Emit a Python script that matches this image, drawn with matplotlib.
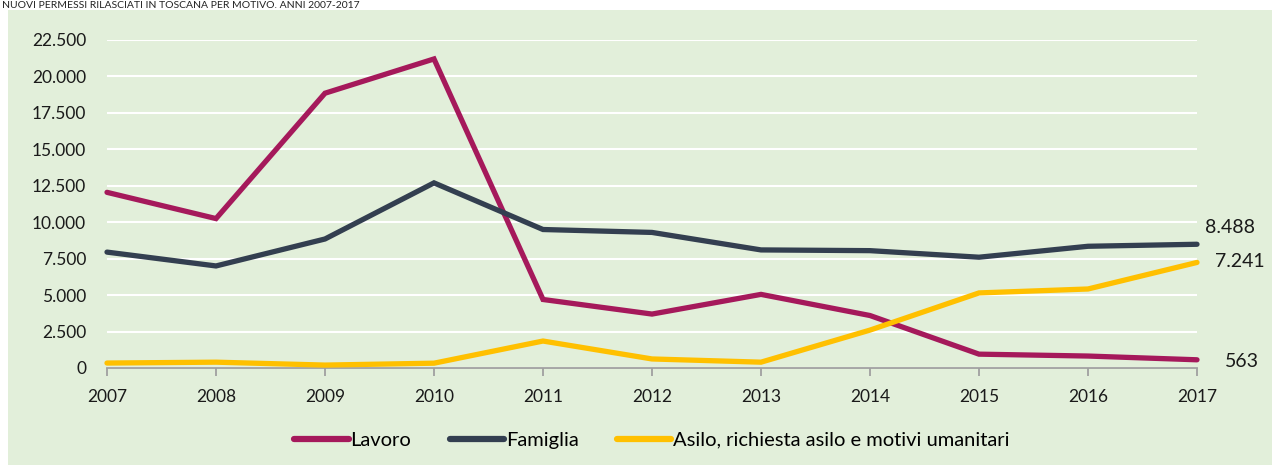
import matplotlib
matplotlib.use("Agg")
import matplotlib.pyplot as plt
from matplotlib.patches import Rectangle
from matplotlib.ticker import FuncFormatter

years = [2007, 2008, 2009, 2010, 2011, 2012, 2013, 2014, 2015, 2016, 2017]
lavoro = [12050, 10250, 18850, 21200, 4700, 3700, 5050, 3600, 950, 820, 563]
famiglia = [7950, 7000, 8850, 12700, 9500, 9300, 8100, 8050, 7600, 8350, 8488]
asilo = [340, 400, 200, 330, 1850, 620, 400, 2600, 5150, 5420, 7241]
labels = ["Lavoro", "Famiglia", "Asilo, richiesta asilo e motivi umanitari"]
colors = ["#A5195B", "#333F50", "#FFC000"]
title = "NUOVI PERMESSI RILASCIATI IN TOSCANA PER MOTIVO. ANNI 2007-2017"

plt.rcParams['font.family'] = ['Lato', 'DejaVu Sans']

W, H = 1279, 468
fig = plt.figure(figsize=(W/100, H/100), dpi=100)
fig.patch.set_facecolor("white")
bg = Rectangle((8/W, 1-465/H), (1272-8)/W, (465-10)/H, transform=fig.transFigure,
               facecolor="#E2EFDA", edgecolor="none", zorder=-5)
fig.patches.append(bg)
fig.text(2/W, 1-1/H, title, fontsize=7.5, color="#222222", va="top", ha="left")

ax = fig.add_axes([107/W, 1-368/H, (1197-107)/W, (368-40)/H])
ax.set_zorder(2)
ax.set_facecolor("none")
for vals, lab, c in zip([lavoro, famiglia, asilo], labels, colors):
    ax.plot(years, vals, color=c, lw=3.8, label=lab, solid_capstyle="round",
            solid_joinstyle="miter", zorder=3, clip_on=False)

ax.set_xlim(years[0], years[-1])
ax.set_ylim(0, 22500)
ax.set_yticks(range(0, 22501, 2500))
ax.yaxis.set_major_formatter(FuncFormatter(lambda v, p: f"{int(v):,}".replace(",", ".")))
ax.set_xticks(years)
ax.grid(axis="y", color="white", lw=1.5, zorder=1)
ax.set_axisbelow(True)
for s in ["top", "right", "left"]:
    ax.spines[s].set_visible(False)
ax.spines["bottom"].set_color("#A0A0A0")
ax.spines["bottom"].set_linewidth(1.3)
ax.spines["bottom"].set_zorder(2)
ax.tick_params(axis="y", length=0, pad=15, labelsize=12.5, labelcolor="#1a1a1a")
ax.tick_params(axis="x", length=6, width=1.3, color="#A0A0A0", pad=9,
               labelsize=12.5, labelcolor="#1a1a1a")

# end labels
ax.annotate("8.488", (years[-1], famiglia[-1]), xytext=(6, 12), textcoords="offset points",
            fontsize=14, color="#1a1a1a", va="center", ha="left", annotation_clip=False)
ax.annotate("7.241", (years[-1], asilo[-1]), xytext=(13, 1), textcoords="offset points",
            fontsize=14, color="#1a1a1a", va="center", ha="left", annotation_clip=False)
ax.annotate("563", (years[-1], lavoro[-1]), xytext=(20, -1), textcoords="offset points",
            fontsize=14, color="#1a1a1a", va="center", ha="left", annotation_clip=False)

leg = fig.legend(loc="center", bbox_to_anchor=(652/W, 1-440/H), ncol=3, frameon=False,
                 fontsize=14.5, handlelength=2.7, handletextpad=0.1, columnspacing=1.9)
for l in leg.get_lines():
    l.set_linewidth(4.5)

fig.savefig("out.png", dpi=100)
